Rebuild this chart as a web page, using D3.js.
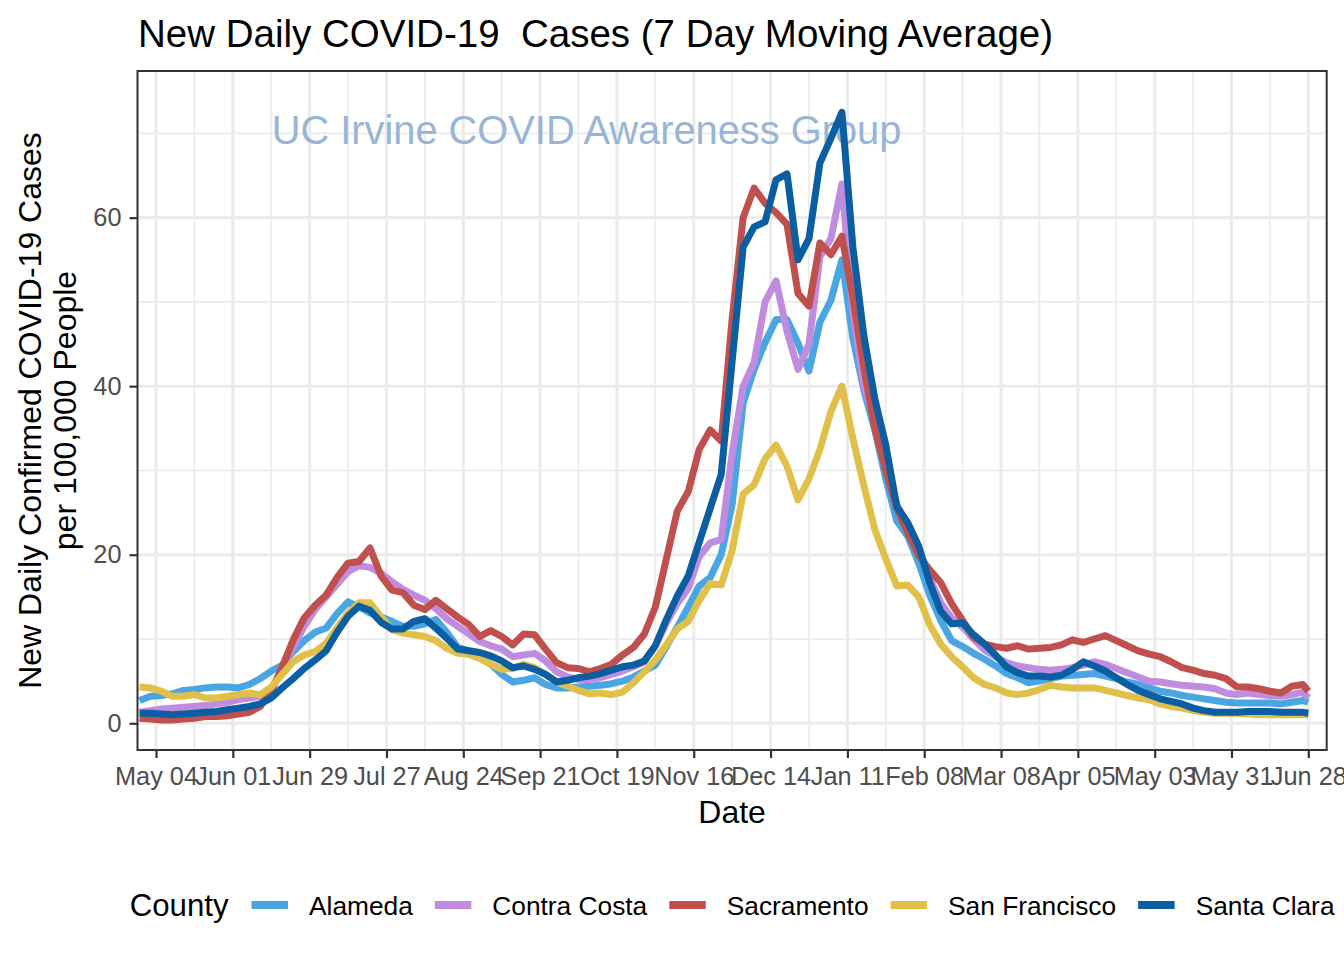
<!DOCTYPE html>
<html><head><meta charset="utf-8">
<script src="https://cdn.jsdelivr.net/npm/d3@7"></script>
<style>
html,body{margin:0;padding:0;background:#fff;}
text{font-family:"Liberation Sans",Arial,Helvetica,sans-serif;}
</style></head><body>
<svg id="chart" width="1344" height="960"></svg>
<script>
// ---------- data ----------
const startDate = "2020-04-28";   // first observation, then every 4 days
const stepDays = 4;
const lastDate = "2021-06-28";    // final observation
const counties = ["Alameda", "Contra Costa", "Sacramento", "San Francisco", "Santa Clara"];
const countyColors = ["#4AA6E2", "#C08CE0", "#C0504D", "#E1C04A", "#0B5EA2"];

const alameda = [2.7,3.2,3.3,3.5,3.9,4.0,4.2,4.3,4.3,4.2,
  4.6,5.3,6.2,6.9,8.5,9.8,10.8,11.3,13.0,14.4,
  13.8,13.1,12.6,12.1,11.5,11.5,11.8,12.3,10.8,9.0,
  8.6,8.0,7.0,5.8,4.9,5.1,5.4,4.6,4.2,4.2,
  4.3,4.4,4.5,4.7,5.0,5.5,6.2,6.9,9.1,11.4,
  13.8,16.3,17.3,20.0,26.0,38.0,42.0,45.2,47.9,47.9,
  45.1,41.8,47.6,50.2,55.0,45.7,39.5,34.8,29.0,24.0,
  22.2,19.0,15.2,12.2,9.8,9.1,8.3,7.6,6.8,5.9,
  5.4,4.8,5.0,5.3,5.6,5.7,5.8,5.9,5.6,5.3,
  4.9,4.6,4.2,3.8,3.6,3.3,3.1,2.9,2.7,2.5,
  2.4,2.4,2.4,2.4,2.3,2.5,2.7,2.5];
const contraCosta = [1.3,1.5,1.7,1.8,1.9,2.0,2.1,2.3,2.5,2.8,
  3.0,3.2,3.9,6.5,9.0,11.5,13.5,15.0,16.5,18.0,
  18.7,18.5,17.8,16.8,15.9,15.2,14.6,13.6,12.4,11.5,
  10.6,9.7,9.2,8.8,7.9,8.1,8.3,7.4,6.1,5.5,
  5.2,5.2,5.4,5.8,6.2,6.7,7.3,9.2,11.9,14.2,
  16.0,19.8,21.4,21.8,32.0,40.0,42.8,50.0,52.5,46.5,
  42.0,45.0,55.4,57.5,64.0,49.0,40.0,36.0,31.0,26.0,
  23.5,20.8,17.2,14.3,12.5,11.4,10.0,8.7,7.9,7.2,
  6.8,6.6,6.4,6.3,6.4,6.6,6.9,7.3,7.0,6.5,
  6.0,5.5,5.0,4.9,4.7,4.5,4.4,4.3,4.1,3.6,
  3.4,3.6,3.4,3.3,3.2,3.4,3.7,3.0];
const sacramento = [0.6,0.5,0.4,0.4,0.5,0.6,0.8,0.8,0.9,1.1,
  1.3,2.0,3.8,6.7,9.9,12.5,14.0,15.2,17.3,19.0,
  19.2,20.8,17.5,15.8,15.5,14.0,13.5,14.6,13.6,12.6,
  11.7,10.3,11.0,10.3,9.3,10.6,10.5,8.8,7.2,6.6,
  6.5,6.1,6.5,7.0,8.1,9.0,10.6,13.8,19.5,25.2,
  27.5,32.5,34.8,33.5,48.0,60.0,63.5,61.7,60.6,59.2,
  51.0,49.5,57.0,55.6,57.8,50.5,42.2,35.0,30.0,25.5,
  22.6,19.9,18.2,16.7,14.2,12.2,10.2,9.4,9.1,8.9,
  9.2,8.8,8.9,9.0,9.3,9.9,9.6,10.0,10.4,9.8,
  9.2,8.6,8.2,7.9,7.3,6.6,6.3,5.9,5.7,5.3,
  4.3,4.3,4.1,3.8,3.6,4.4,4.6,3.8];
const sanFrancisco = [4.3,4.2,3.8,3.2,3.2,3.4,3.0,3.0,3.2,3.4,
  3.6,3.4,4.3,5.8,7.3,8.1,8.5,9.5,11.3,13.1,
  14.3,14.3,12.6,11.1,10.7,10.5,10.3,9.8,8.9,8.3,
  8.2,7.7,7.0,6.4,6.5,7.0,6.6,5.8,4.9,4.4,
  3.9,3.5,3.6,3.4,3.7,4.8,6.1,7.5,9.3,11.2,
  12.1,14.6,16.6,16.4,20.5,27.2,28.3,31.4,33.0,30.5,
  26.5,29.0,32.5,37.0,40.0,33.8,28.2,23.0,19.5,16.3,
  16.4,15.0,11.7,9.4,7.9,6.7,5.4,4.6,4.2,3.6,
  3.4,3.6,4.0,4.5,4.3,4.2,4.2,4.2,3.9,3.6,
  3.3,3.0,2.8,2.3,2.0,1.8,1.5,1.3,1.2,1.2,
  1.2,1.1,1.0,1.0,1.0,1.0,1.0,1.0];
const santaClara = [1.2,1.2,1.1,1.0,1.1,1.2,1.3,1.4,1.6,1.8,
  2.0,2.3,3.0,4.2,5.3,6.5,7.5,8.6,10.8,12.7,
  13.9,13.4,12.0,11.2,11.2,12.1,12.4,11.3,10.1,8.8,
  8.6,8.4,8.0,7.4,6.6,6.8,6.4,5.8,4.9,5.1,
  5.4,5.6,5.9,6.3,6.7,6.9,7.4,9.2,12.3,15.1,
  17.5,21.5,25.5,29.5,43.0,56.5,58.9,59.5,64.5,65.2,
  55.0,57.5,66.5,69.4,72.5,56.5,46.0,38.5,33.0,25.7,
  23.8,21.0,16.7,13.3,11.8,11.9,10.5,9.4,8.1,6.7,
  6.0,5.6,5.6,5.5,5.7,6.4,7.3,6.8,6.2,5.4,
  4.6,3.9,3.4,2.9,2.6,2.3,1.8,1.5,1.3,1.3,
  1.3,1.4,1.4,1.4,1.3,1.3,1.3,1.2];
const seriesValues = [alameda, contraCosta, sacramento, sanFrancisco, santaClara];

const tickLabelDates = ["2020-05-04","2020-06-01","2020-06-29","2020-07-27","2020-08-24","2020-09-21",
  "2020-10-19","2020-11-16","2020-12-14","2021-01-11","2021-02-08","2021-03-08","2021-04-05",
  "2021-05-03","2021-05-31","2021-06-28"];
const yTicks = [0, 20, 40, 60];
const yMinorTicks = [10, 30, 50, 70];

const titleText = "New Daily COVID-19  Cases (7 Day Moving Average)";
const watermarkText = "UC Irvine COVID Awareness Group";
const xTitle = "Date";
const yTitleLines = ["New Daily Confirmed COVID-19 Cases", "per 100,000 People"];
const legendTitle = "County";

// ---------- layout ----------
const W = 1344, H = 960;
const P = {left: 137.5, right: 1326.7, top: 71, bottom: 750};
const parse = d3.utcParse("%Y-%m-%d");

const n = alameda.length;
const dates = d3.range(n - 1).map(i => d3.utcDay.offset(parse(startDate), stepDays * i));
dates.push(parse(lastDate));

const x = d3.scaleUtc()
  .domain([Date.UTC(2020, 3, 27, 6, 10), Date.UTC(2021, 6, 4, 16, 48)])
  .range([P.left, P.right]);
const y = d3.scaleLinear().domain([-3.17, 77.4]).range([P.bottom, P.top]);

const svg = d3.select("#chart");
svg.append("rect").attr("width", W).attr("height", H).attr("fill", "#fff");

svg.append("rect").attr("x", P.left).attr("y", P.top)
  .attr("width", P.right - P.left).attr("height", P.bottom - P.top).attr("fill", "#fff");

const majorDates = tickLabelDates.map(parse);
const minorDates = d3.range(majorDates.length - 1).map(i => d3.utcDay.offset(majorDates[i], 14));

const grid = svg.append("g");
grid.selectAll(".ymin").data(yMinorTicks).join("line")
  .attr("x1", P.left).attr("x2", P.right).attr("y1", d => y(d)).attr("y2", d => y(d))
  .attr("stroke", "#EBEBEB").attr("stroke-width", 1.6);
grid.selectAll(".xmin").data(minorDates).join("line")
  .attr("y1", P.top).attr("y2", P.bottom).attr("x1", d => x(d)).attr("x2", d => x(d))
  .attr("stroke", "#EBEBEB").attr("stroke-width", 1.6);
grid.selectAll(".ymaj").data(yTicks).join("line")
  .attr("x1", P.left).attr("x2", P.right).attr("y1", d => y(d)).attr("y2", d => y(d))
  .attr("stroke", "#EBEBEB").attr("stroke-width", 3.1);
grid.selectAll(".xmaj").data(majorDates).join("line")
  .attr("y1", P.top).attr("y2", P.bottom).attr("x1", d => x(d)).attr("x2", d => x(d))
  .attr("stroke", "#EBEBEB").attr("stroke-width", 3.1);

// watermark
svg.append("text").attr("x", 586.5).attr("y", 143.5).attr("text-anchor", "middle")
  .attr("font-size", 39.8).attr("fill", "#98B5D5").text(watermarkText);

svg.append("clipPath").attr("id", "clip").append("rect")
  .attr("x", P.left).attr("y", P.top).attr("width", P.right - P.left).attr("height", P.bottom - P.top);

const line = d3.line().x((d, i) => x(dates[i])).y(d => y(d));
const lines = svg.append("g").attr("clip-path", "url(#clip)");
seriesValues.forEach((vals, si) => {
  lines.append("path").datum(vals).attr("d", line)
    .attr("fill", "none").attr("stroke", countyColors[si]).attr("stroke-width", 7)
    .attr("stroke-linejoin", "round").attr("stroke-linecap", "butt");
});

svg.append("rect").attr("x", P.left).attr("y", P.top)
  .attr("width", P.right - P.left).attr("height", P.bottom - P.top)
  .attr("fill", "none").attr("stroke", "#333333").attr("stroke-width", 2);

const xAxis = d3.axisBottom(x).tickValues(majorDates).tickFormat(d3.utcFormat("%b %d"))
  .tickSize(8).tickPadding(9);
const gx = svg.append("g").attr("transform", `translate(0,${P.bottom})`).call(xAxis);
gx.select(".domain").remove();
gx.selectAll(".tick line").attr("stroke", "#333333").attr("stroke-width", 2.2);
gx.selectAll(".tick text").attr("fill", "#4D4D4D").attr("font-size", 25.3)
  .attr("font-family", "Liberation Sans, Arial, sans-serif").attr("dy", "0.71em");

const yAxis = d3.axisLeft(y).tickValues(yTicks).tickFormat(d3.format("d")).tickSize(8).tickPadding(8);
const gy = svg.append("g").attr("transform", `translate(${P.left},0)`).call(yAxis);
gy.select(".domain").remove();
gy.selectAll(".tick line").attr("stroke", "#333333").attr("stroke-width", 2.2);
gy.selectAll(".tick text").attr("fill", "#4D4D4D").attr("font-size", 25.3)
  .attr("font-family", "Liberation Sans, Arial, sans-serif");

svg.append("text").attr("x", 138).attr("y", 47).attr("font-size", 38.5)
  .style("white-space", "pre").attr("fill", "#000").text(titleText);
svg.append("text").attr("x", (P.left + P.right) / 2).attr("y", 823).attr("text-anchor", "middle")
  .attr("font-size", 32).attr("fill", "#000").text(xTitle);
const yt = svg.append("text").attr("transform", `translate(0,${(P.top + P.bottom) / 2}) rotate(-90)`)
  .attr("text-anchor", "middle").attr("font-size", 32).attr("fill", "#000");
yTitleLines.forEach((t, i) => yt.append("tspan").attr("x", 0).attr("y", 41 + i * 35).text(t));

// legend
const leg = svg.append("g");
const legY = 905;
const lt = leg.append("text").attr("y", legY + 11).attr("font-size", 31.2).attr("fill", "#000").text(legendTitle);
let cx = lt.node().getComputedTextLength() + 23;
counties.forEach((c, i) => {
  leg.append("line").attr("x1", cx).attr("x2", cx + 36.5).attr("y1", legY).attr("y2", legY)
    .attr("stroke", countyColors[i]).attr("stroke-width", 8);
  cx += 36.5 + 21;
  const t = leg.append("text").attr("x", cx).attr("y", legY + 9.5).attr("font-size", 26.3)
    .attr("fill", "#000").text(c);
  cx += t.node().getComputedTextLength();
  if (i < counties.length - 1) cx += 22;
});
const legStart = (P.left + P.right) / 2 - cx / 2;
leg.attr("transform", `translate(${legStart},0)`);
</script>
</body></html>
